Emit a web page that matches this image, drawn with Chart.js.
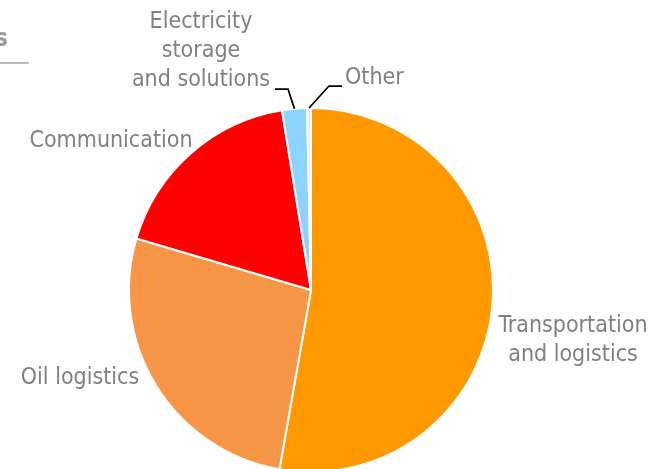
<!DOCTYPE html>
<html>
<head>
<meta charset="utf-8">
<script src="https://cdn.jsdelivr.net/npm/chart.js"></script>
<style>
  html, body { margin: 0; padding: 0; background: #fff; overflow: hidden; }
  #wrap { position: relative; width: 652px; height: 480px; }
</style>
</head>
<body>
<div id="wrap"><canvas id="pie"></canvas></div>
<script>
// 数据
const categories = ['Transportation and logistics', 'Oil logistics', 'Communication', 'Electricity storage and solutions', 'Other'];
const shares = [52.8, 26.8, 17.9, 2.2, 0.35];
const sliceColors = ['#FF9900', '#F79646', '#FF0000', '#8DD3FF', '#E4E6F4'];

// 标签排版（位置只在这里）
const labelLayout = [
    { lines: ['Transportation', 'and logistics'], x: 573, y: 326, align: 'center' },
    { lines: ['Oil logistics'], x: 80, y: 378, align: 'center' },
    { lines: ['Communication'], x: 111, y: 141, align: 'center' },
    { lines: ['Electricity', 'storage', 'and solutions'], x: 201, y: 22, align: 'center',
      leader: { from: [275, 89], elbow: [288, 89] } },
    { lines: ['Other'], x: 345, y: 78, align: 'left',
      leader: { from: [342, 86], elbow: [329, 86] } }
];
const textColor = '#808080';
const fontFamily = '"DejaVu Sans Condensed", "DejaVu Sans", sans-serif';

const labelPlugin = {
    id: 'sliceLabels',
    afterDraw(chart) {
        const ctx = chart.ctx;
        const arcs = chart.getDatasetMeta(0).data;
        ctx.save();
        ctx.font = '23px ' + fontFamily;
        ctx.fillStyle = textColor;
        ctx.textBaseline = 'middle';
        labelLayout.forEach((lab, i) => {
            ctx.textAlign = lab.align;
            lab.lines.forEach((t, k) => ctx.fillText(t, lab.x, lab.y + k * 29));
            if (lab.leader) {
                const a = arcs[i].getProps(['x', 'y', 'startAngle', 'endAngle', 'outerRadius'], true);
                const mid = (a.startAngle + a.endAngle) / 2;
                const ex = a.x + Math.cos(mid) * a.outerRadius;
                const ey = a.y + Math.sin(mid) * a.outerRadius;
                ctx.beginPath();
                ctx.strokeStyle = '#000';
                ctx.lineWidth = 1.75;
                ctx.moveTo(lab.leader.from[0], lab.leader.from[1]);
                ctx.lineTo(lab.leader.elbow[0], lab.leader.elbow[1]);
                ctx.lineTo(ex, ey);
                ctx.stroke();
            }
        });
        // 左上角被裁掉的标题残片
        ctx.font = 'bold 24px ' + fontFamily;
        ctx.fillStyle = '#9A9A9A';
        ctx.textAlign = 'left';
        ctx.fillText('s', -5, 40);
        ctx.beginPath();
        ctx.strokeStyle = '#A6A6A6';
        ctx.lineWidth = 1.5;
        ctx.moveTo(0, 63);
        ctx.lineTo(29, 63);
        ctx.stroke();
        ctx.restore();
    }
};

new Chart(document.getElementById('pie'), {
    type: 'pie',
    data: {
        labels: categories,
        datasets: [{
            data: shares,
            backgroundColor: sliceColors,
            borderColor: '#FFFFFF',
            borderWidth: 2
        }]
    },
    options: {
        responsive: true,
        maintainAspectRatio: false,
        animation: false,
        layout: { padding: { top: 107, bottom: 7, left: 128, right: 158 } },
        plugins: {
            legend: { display: false },
            tooltip: { enabled: false }
        }
    },
    plugins: [labelPlugin]
});
</script>
</body>
</html>
